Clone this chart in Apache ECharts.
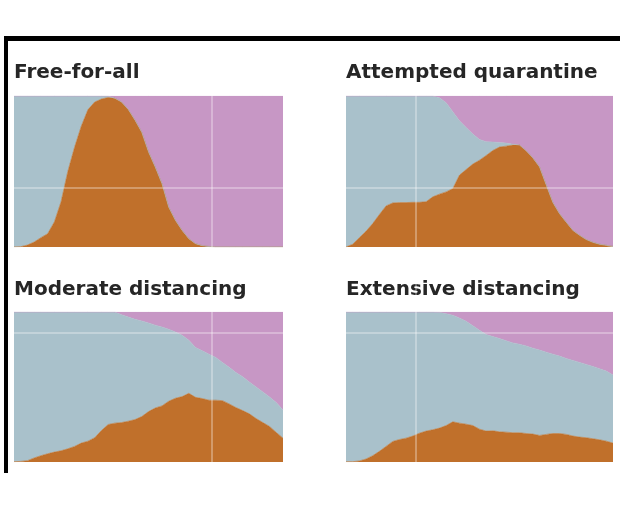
<!DOCTYPE html>
<html>
<head>
<meta charset="utf-8">
<script src="https://cdn.jsdelivr.net/npm/echarts@6/dist/echarts.min.js"></script>
<style>
html,body{margin:0;padding:0;background:#fff;}
#chart{width:620px;height:515px;}
</style>
</head>
<body>
<div id="chart"></div>
<script>
var panelTitles = ['Free-for-all', 'Attempted quarantine', 'Moderate distancing', 'Extensive distancing'];
var timeSteps = [0,2.5,5,7.5,10,12.5,15,17.5,20,22.5,25,27.5,30,32.5,35,37.5,40,42.5,45,47.5,50,52.5,55,57.5,60,62.5,65,67.5,70,72.5,75,77.5,80,82.5,85,87.5,90,92.5,95,97.5,100];

// percent of population sick (bottom band)
var sickFree = [0,0.2,1.3,3.3,6.2,8.8,16.6,30,50,66,80,91,96,98,99,98.5,96,91,84,76,63,53,42,26.5,17.7,11,5.5,2.2,0.9,0.3,0,0,0,0,0,0,0,0,0,0,0];
var sickQuarantine = [0,1.8,6.2,10.4,15.5,21.5,27.2,29.2,29.4,29.4,29.6,29.6,30,33.2,35,36.5,38.7,47.6,51.3,54.9,57.5,60.6,63.9,66.2,66.8,67.5,67.5,63.7,59,53,41,29.4,22,16.4,11,7.7,4.9,3.1,1.8,1.1,0.4];
var sickModerate = [0.2,0.4,0.9,2.7,4.2,5.5,6.6,7.5,8.8,10.4,12.6,13.9,16.2,21,25,25.9,26.3,27.2,28.3,30.3,33.6,36,37.4,40.5,42.5,43.6,45.8,43.1,42.3,41.2,41.2,40.9,38.7,36.3,34.3,32.1,29,26.3,23.7,19.7,15.9];
var sickExtensive = [0.2,0.2,0.7,2,4.2,7.1,10.4,13.7,15,15.9,17.3,19.2,20.6,21.5,22.6,24.3,26.8,25.9,25.2,24.3,21.9,20.6,20.8,20.1,19.9,19.5,19.5,19,18.6,17.7,18.4,19,19,18.4,17.3,16.6,16.2,15.5,14.8,13.9,12.6];

// percent of population recovered (top band)
var recFree = [0,0,0,0,0,0,0,0,0,0,0,0,0,0,0,1.5,4,9,16,24,37,47,58,73.5,82.3,89,94.5,97.8,99.1,99.7,100,100,100,100,100,100,100,100,100,100,100];
var recQuarantine = [0,0,0,0,0,0,0,0,0,0,0,0,0,0,1.1,4.4,10.4,16.4,20.8,25.2,28.8,30.3,30.5,30.8,31.2,31.9,32.5,36.3,41,47,59,70.6,78,83.6,89,92.3,95.1,96.9,98.2,98.9,99.6];
var recModerate = [0,0,0,0,0,0,0,0,0,0,0,0,0,0,0,0,1.8,3.3,4.9,6,7.3,8.8,10,11.5,13.3,15.5,18.8,23.7,25.9,28.1,30.3,33.6,36.9,40.3,43.1,46.7,50,53.3,56.6,60.4,65.3];
var recExtensive = [0,0,0,0,0,0,0,0,0,0,0,0,0,0,0.2,1.1,2.2,4,6.2,9.1,12.2,15,16.4,17.7,19.2,20.6,21.5,22.6,24.1,25.4,26.8,28.1,29.4,31,32.3,33.6,35,36.3,37.8,39.4,42];

var sickSets = [sickFree, sickQuarantine, sickModerate, sickExtensive];
var recSets = [recFree, recQuarantine, recModerate, recExtensive];

var COL_SICK = '#c0702b', COL_HEALTHY = '#a9c1cb', COL_REC = '#c797c5';

var grids = [
  {left: 14, top: 96, width: 269, height: 151},
  {left: 346, top: 96, width: 267, height: 151},
  {left: 14, top: 312, width: 269, height: 150},
  {left: 346, top: 312, width: 267, height: 150}
];
var titlePos = [
  {left: 14, top: 63}, {left: 346, top: 63}, {left: 14, top: 280}, {left: 346, top: 280}
];

var xAxes = [], yAxes = [], series = [], titles = [];
for (var i = 0; i < 4; i++) {
  xAxes.push({gridIndex: i, type: 'category', data: timeSteps, boundaryGap: false, show: false});
  yAxes.push({gridIndex: i, type: 'value', min: 0, max: 100, show: false});
  var healthy = sickSets[i].map(function (s, k) {
    return Math.max(0, +(100 - s - recSets[i][k]).toFixed(2));
  });
  var bands = [
    {name: 'Sick', data: sickSets[i], color: COL_SICK},
    {name: 'Healthy', data: healthy, color: COL_HEALTHY},
    {name: 'Recovered', data: recSets[i], color: COL_REC}
  ];
  bands.forEach(function (b) {
    series.push({
      name: b.name, type: 'line', xAxisIndex: i, yAxisIndex: i, stack: 'p' + i,
      data: b.data, symbol: 'none', silent: true,
      lineStyle: {width: 0.6, color: b.color},
      areaStyle: {color: b.color, opacity: 1}
    });
  });
  titles.push({
    text: panelTitles[i], left: titlePos[i].left, top: titlePos[i].top, padding: 0,
    textStyle: {fontFamily: 'DejaVu Sans', fontWeight: 'bold', fontSize: 20, color: '#262626'}
  });
}

var crease = 'rgba(255,255,255,0.3)';
var chart = echarts.init(document.getElementById('chart'), null, {renderer: 'canvas'});
chart.setOption({
  animation: false,
  backgroundColor: '#fff',
  title: titles,
  grid: grids,
  xAxis: xAxes,
  yAxis: yAxes,
  series: series,
  graphic: [
    {type: 'rect', shape: {x: 4, y: 36, width: 616, height: 5}, style: {fill: '#000'}, z: 100},
    {type: 'rect', shape: {x: 4, y: 36, width: 4, height: 437}, style: {fill: '#000'}, z: 100},
    {type: 'line', shape: {x1: 212, y1: 41, x2: 212, y2: 515}, style: {stroke: crease, lineWidth: 2}, z: 90},
    {type: 'line', shape: {x1: 416, y1: 41, x2: 416, y2: 515}, style: {stroke: crease, lineWidth: 2}, z: 90},
    {type: 'line', shape: {x1: 8, y1: 188, x2: 620, y2: 188}, style: {stroke: crease, lineWidth: 2}, z: 90},
    {type: 'line', shape: {x1: 8, y1: 333, x2: 620, y2: 333}, style: {stroke: crease, lineWidth: 2}, z: 90}
  ]
});
</script>
</body>
</html>
